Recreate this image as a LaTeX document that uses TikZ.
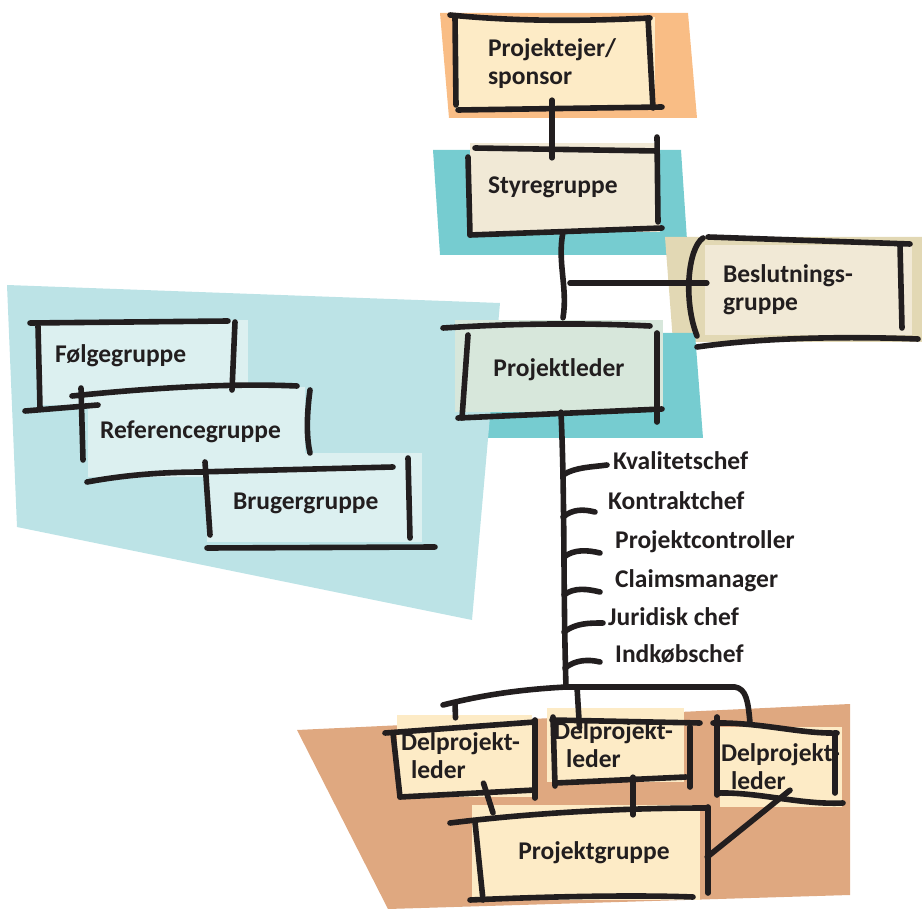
\documentclass[tikz,border=0pt]{standalone}
\usepackage{fontspec}
\setmainfont{Carlito}
\usetikzlibrary{calc}

\definecolor{inkc}{HTML}{221E1F}
\definecolor{orangebg}{HTML}{F9BD85}
\definecolor{creamfill}{HTML}{FDEBC6}
\definecolor{tealbg}{HTML}{76CCD0}
\definecolor{beigefill}{HTML}{F1E9D6}
\definecolor{tanbg}{HTML}{E2D8B4}
\definecolor{mintfill}{HTML}{D7E7DB}
\definecolor{lightteal}{HTML}{BCE3E6}
\definecolor{paleteal}{HTML}{DCF0F0}
\definecolor{brownbg}{HTML}{DFA880}

\newcommand\lblfont{\fontsize{25.5}{28}\selectfont\bfseries}

\begin{document}
\begin{tikzpicture}[x=1pt,y=-1pt,
  ink/.style={draw=inkc,line width=5.6pt,line cap=round,line join=round},
  sheet/.style={inner ysep=0pt,align=left,font=\lblfont,text=inkc,anchor=center},
  role/.style={font=\lblfont,text=inkc,anchor=base west,inner sep=0pt}]
\useasboundingbox (0,0) rectangle (922,909);

% coloured backdrops
\fill[orangebg] (440,13) -- (688,13) -- (697,118) -- (449,118) -- cycle;
\fill[tealbg] (433,150) -- (681,150) -- (688,255) -- (440,255) -- cycle;
\fill[tanbg] (665,237) -- (922,237) -- (922,342) -- (673,342) -- cycle;
\fill[tealbg] (447,333) -- (695,333) -- (703,438) -- (455,438) -- cycle;
\fill[lightteal] (7,285) -- (500,303) -- (472,620) -- (17,527) -- cycle;
\fill[brownbg] (297,730) -- (850,704) -- (850,895) -- (388,909) -- cycle;

% sheets with their labels
\node[sheet,fill=creamfill,minimum width=200pt,minimum height=93pt,text width=134pt,inner xsep=33pt]
  (pe) at (555,63.5) {Projektejer/\\sponsor};
\node[sheet,fill=beigefill,minimum width=190pt,minimum height=89pt,text width=154pt,inner xsep=18pt]
  (sg) at (565,187.5) {Styregruppe};
\node[sheet,fill=beigefill,minimum width=207pt,minimum height=90pt,text width=171pt,inner xsep=18pt]
  (bg) at (808.5,290) {Beslutnings-\\gruppe};
\node[sheet,fill=mintfill,minimum width=208pt,minimum height=92pt,align=center,text height=22pt,text depth=0pt]
  (pl) at (559,366) {Projektleder};

\node[sheet,fill=paleteal,minimum width=210pt,minimum height=85pt,text width=176pt,inner xsep=17pt,text height=17pt,text depth=16pt]
  (fg) at (143,362.5) {Følgegruppe};
\node[sheet,fill=paleteal,minimum width=217pt,minimum height=90pt,text width=193pt,inner xsep=12pt]
  (rg) at (196.5,432) {Referencegruppe};
\node[sheet,fill=paleteal,minimum width=215pt,minimum height=89pt,text width=163pt,inner xsep=26pt,text height=24pt,text depth=0pt]
  (bug) at (314.5,497.5) {Brugergruppe};

\node[sheet,fill=creamfill,minimum width=135pt,minimum height=82pt,text width=127pt,inner xsep=4pt]
  (dp1) at (464.5,756) {Delprojekt-\\\hspace*{10pt}leder};
\node[sheet,fill=creamfill,minimum width=137pt,minimum height=74pt,text width=123pt,inner xsep=7pt]
  (dp2) at (615.5,745) {Delprojekt-\\\hspace*{12pt}leder};
\node[sheet,fill=creamfill,minimum width=122pt,minimum height=80pt,text width=120pt,inner xsep=1pt]
  (dp3) at (781,767) {Delprojekt-\\\hspace*{10pt}leder};
\node[sheet,fill=creamfill,minimum width=228pt,minimum height=95pt,align=center]
  (pg) at (586,852.5) {\hspace*{16pt}Projektgruppe};

% staff roles beside the line
\node[role] (k1) at (613,470) {Kvalitetschef};
\node[role] (k2) at (608,510) {Kontraktchef};
\node[role] (k3) at (615,548) {Projektcontroller};
\node[role] (k4) at (615,587) {Claimsmanager};
\node[role] (k5) at (608,625) {Juridisk chef};
\node[role] (k6) at (615,662) {Indkøbschef};

% sketchy outlines: Projektejer
\draw[ink] (450,15) .. controls (520,22) and (590,21) .. (650,18);
\draw[ink] (455,17) -- (456,105);
\draw[ink] (648,18) -- (653,108);
\draw[ink] (458,110) -- (662,107);
% Styregruppe
\draw[ink] (475,148) -- (657,151);
\draw[ink] (468,157) -- (470,235);
\draw[ink] (657,137) -- (658,222);
\draw[ink] (470,235) -- (662,228);
% Beslutningsgruppe
\draw[ink] (703,238) .. controls (688,248) and (683,300) .. (697,336);
\draw[ink] (708,237) -- (910,244);
\draw[ink] (900,245) -- (902,328);
\draw[ink] (697,347) .. controls (760,338) and (840,336) .. (918,339);
% Projektleder
\draw[ink] (443,328) .. controls (520,323) and (590,323) .. (650,326);
\draw[ink] (468,335) -- (462,418);
\draw[ink] (657,333) -- (657,422);
\draw[ink] (458,418) -- (662,409);
% Følgegruppe
\draw[ink] (30,323) -- (228,321);
\draw[ink] (38,326) -- (40,408);
\draw[ink] (235,322) -- (232,390);
\draw[ink] (25,411) -- (98,405);
% Referencegruppe
\draw[ink] (72,396) .. controls (150,388) and (230,383) .. (297,386);
\draw[ink] (81,388) -- (83,460);
\draw[ink] (310,390) .. controls (306,420) and (307,440) .. (310,453);
\draw[ink] (87,482) .. controls (130,474) and (170,472) .. (203,472);
% Brugergruppe
\draw[ink] (197,472) -- (393,467);
\draw[ink] (205,462) -- (210,535);
\draw[ink] (408,458) -- (410,538);
\draw[ink] (207,548) -- (435,547);
% Delprojektledere
\draw[ink] (385,733) -- (535,722);
\draw[ink] (393,733) -- (400,797);
\draw[ink] (535,720) -- (535,798);
\draw[ink] (400,797) -- (535,790);
\draw[ink] (552,720) -- (700,723);
\draw[ink] (553,717) -- (555,786);
\draw[ink] (690,727) -- (690,787);
\draw[ink] (556,783) -- (686,777);
\draw[ink] (713,723) .. controls (760,722) and (800,734) .. (837,733);
\draw[ink] (717,717) -- (717,795);
\draw[ink] (835,733) -- (835,793);
\draw[ink] (717,793) .. controls (760,792) and (800,805) .. (843,803);
% Projektgruppe
\draw[ink] (450,823) .. controls (540,812) and (630,808) .. (707,808);
\draw[ink] (475,822) -- (483,900);
\draw[ink] (708,807) -- (708,893);
\draw[ink] (470,900) .. controls (560,896) and (640,895) .. (693,897);

% connectors
\draw[ink] ($(pe.south)+(-3,-10)$) -- ($(sg.north)+(-13,15)$);
\draw[ink] ($(sg.south)+(-2,0)$) .. controls +(-6,30) and +(5,-30) .. ($(pl.north)+(4,-2)$);
\coordinate (tap) at (570,283);
\draw[ink] (tap) -- ($(bg.west)+(2,-7)$);
\coordinate (hub) at (566,687);
\draw[ink] ($(pl.south)+(2,0)$) .. controls +(4,90) and +(-3,-100) .. (hub);
\draw[ink] (563,475) .. controls +(12,-8) and +(-14,2) .. ($(k1.base west)+(-6,-5)$);
\draw[ink] (563,517) .. controls +(10,-8) and +(-12,-3) .. ($(k2.base west)+(-13,2)$);
\draw[ink] (564,557) .. controls +(10,-8) and +(-12,-3) .. ($(k3.base west)+(-15,5)$);
\draw[ink] (564,595) .. controls +(10,-8) and +(-12,-3) .. ($(k4.base west)+(-15,5)$);
\draw[ink] (564,632) .. controls +(12,-9) and +(-14,0) .. ($(k5.base west)+(-5,-2)$);
\draw[ink] (565,668) .. controls +(10,-8) and +(-12,-3) .. ($(k6.base west)+(-15,0)$);
\draw[ink] (443,705) .. controls (490,693) and (530,689) .. (hub) -- (735,687)
  .. controls (746,689) and (748,700) .. ($(dp3.north)+(-31,-4)$);
\draw[ink] (455,703) -- ($(dp1.north)+(-9,3)$);
\draw[ink] (577,687) -- ($(dp2.north)+(-36,20)$);
\draw[ink] ($(dp1.south)+(19,-14)$) -- ($(pg.north)+(-93,8)$);
\draw[ink] ($(dp2.south)+(17.5,-5)$) -- ($(pg.north)+(47,10)$);
\draw[ink] ($(dp3.south)+(9,-17)$) -- ($(pg.east)+(7,4.5)$);
\end{tikzpicture}
\end{document}
